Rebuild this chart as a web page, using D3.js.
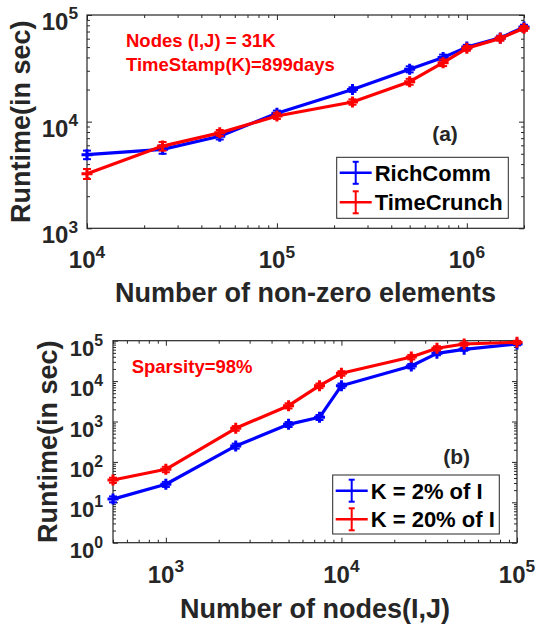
<!DOCTYPE html>
<html>
<head>
<meta charset="utf-8">
<script src="https://cdn.jsdelivr.net/npm/d3@7"></script>
<style>
  body { margin: 0; background: #fff; }
  text { font-family: "Liberation Sans", Arial, sans-serif; font-weight: bold; }
</style>
</head>
<body>
<svg id="chart" width="536" height="629"></svg>
<script>
// panel (a): runtime vs number of non-zero elements
const nnzX = [1e4, 2.5e4, 5e4, 1e5, 2.5e5, 5e5, 7.5e5, 1e6, 1.5e6, 2e6];
const richComm = [4900, 5500, 7300, 12000, 20000, 31000, 40000, 50000, 61000, 77000];
const richCommErr = [450, 500, 500, 700, 1000, 2000, 2500, 2500, 3000, 4000];
const timeCrunch = [3250, 5900, 7850, 11300, 15300, 23700, 35700, 48700, 60400, 75000];
const timeCrunchErr = [350, 550, 500, 700, 900, 1500, 2500, 2500, 3000, 4000];

// panel (b): runtime vs number of nodes
const nodesX = [500, 1000, 2500, 5000, 7500, 10000, 25000, 35000, 50000, 100000];
const k2 = [12, 28, 248, 850, 1270, 7700, 23600, 48700, 61200, 82800];
const k2Err = [2, 4, 35, 120, 180, 1000, 3000, 5000, 5000, 6000];
const k20 = [35.6, 65.6, 680, 2460, 7700, 15600, 39500, 64900, 82800, 91300];
const k20Err = [5, 10, 90, 350, 1000, 2000, 5000, 8000, 8000, 8000];

const axisColor = "#262626";
const svg = d3.select("#chart");

function minorTicks(domain) {
  var out = [];
  var lo = Math.floor(Math.log10(domain[0])), hi = Math.ceil(Math.log10(domain[1]));
  for (var e = lo; e < hi; e++) {
    for (var m = 2; m <= 9; m++) {
      var v = m * Math.pow(10, e);
      if (v >= domain[0] && v <= domain[1]) out.push(v);
    }
  }
  return out;
}

function drawPanel(p) {
  var x = d3.scaleLog().domain(p.xDomain).range([p.left, p.right]);
  var y = d3.scaleLog().domain(p.yDomain).range([p.bottom, p.top]);
  var g = svg.append("g");

  // ticks (inward, on all four sides)
  function ticks(axisFn, scale, vals, size, tr) {
    var a = g.append("g").attr("transform", tr)
      .call(axisFn(scale).tickValues(vals).tickSize(-size).tickSizeOuter(0).tickFormat(""));
    a.select(".domain").remove();
    a.selectAll("line").attr("stroke", axisColor).attr("stroke-width", 1);
  }
  var xMaj = p.xMajor, yMaj = p.yMajor;
  ticks(d3.axisBottom, x, xMaj, 5, "translate(0," + p.bottom + ")");
  ticks(d3.axisBottom, x, minorTicks(p.xDomain), 3, "translate(0," + p.bottom + ")");
  ticks(d3.axisTop, x, xMaj, 5, "translate(0," + p.top + ")");
  ticks(d3.axisTop, x, minorTicks(p.xDomain), 3, "translate(0," + p.top + ")");
  ticks(d3.axisLeft, y, yMaj, 5, "translate(" + p.left + ",0)");
  ticks(d3.axisLeft, y, minorTicks(p.yDomain), 3, "translate(" + p.left + ",0)");
  ticks(d3.axisRight, y, yMaj, 5, "translate(" + p.right + ",0)");
  ticks(d3.axisRight, y, minorTicks(p.yDomain), 3, "translate(" + p.right + ",0)");

  g.append("rect")
    .attr("x", p.left).attr("y", p.top)
    .attr("width", p.right - p.left).attr("height", p.bottom - p.top)
    .attr("fill", "none").attr("stroke", axisColor).attr("stroke-width", 1.2);

  // tick labels 10^n
  xMaj.forEach(function(v) {
    var t = g.append("text")
      .attr("x", x(v)).attr("y", p.bottom + p.xLabelDy)
      .attr("text-anchor", "middle").attr("fill", axisColor)
      .attr("font-size", p.xTickFont);
    t.append("tspan").text("10");
    t.append("tspan").attr("dy", -p.xTickFont * 0.45).attr("font-size", p.xTickFont * 0.72)
      .text(Math.round(Math.log10(v)));
  });
  yMaj.forEach(function(v) {
    var t = g.append("text")
      .attr("x", p.left - p.yLabelGap).attr("y", y(v) + p.yLabelDy)
      .attr("text-anchor", "end").attr("fill", axisColor)
      .attr("font-size", p.yTickFont);
    t.append("tspan").text("10");
    t.append("tspan").attr("dy", -p.yTickFont * 0.45).attr("font-size", p.yTickFont * 0.72)
      .text(Math.round(Math.log10(v)));
  });

  // axis titles
  g.append("text")
    .attr("x", (p.left + p.right) / 2).attr("y", p.xTitleY)
    .attr("text-anchor", "middle").attr("fill", axisColor)
    .attr("font-size", 27).text(p.xTitle);
  g.append("text")
    .attr("transform", "translate(" + p.yTitleX + "," + ((p.top + p.bottom) / 2) + ") rotate(-90)")
    .attr("text-anchor", "middle").attr("fill", axisColor)
    .attr("font-size", 27).text("Runtime(in sec)");

  // series
  var line = d3.line().x(function(d) { return x(d.x); }).y(function(d) { return y(d.y); });
  p.series.forEach(function(s) {
    var pts = p.xs.map(function(xv, i) { return {x: xv, y: s.values[i], e: s.err[i]}; });
    g.append("path").datum(pts)
      .attr("d", line).attr("fill", "none")
      .attr("stroke", s.color).attr("stroke-width", 3.2).attr("stroke-linejoin", "round");
    var pg = g.append("g").selectAll("g").data(pts).enter().append("g")
      .attr("stroke", s.color);
    pg.append("line")
      .attr("x1", function(d) { return x(d.x); }).attr("x2", function(d) { return x(d.x); })
      .attr("y1", function(d) { return y(d.y - d.e); }).attr("y2", function(d) { return y(d.y + d.e); })
      .attr("stroke-width", 2.2);
    [-1, 1].forEach(function(sg) {
      pg.append("line")
        .attr("x1", function(d) { return x(d.x) - 4; }).attr("x2", function(d) { return x(d.x) + 4; })
        .attr("y1", function(d) { return y(d.y + sg * d.e); }).attr("y2", function(d) { return y(d.y + sg * d.e); })
        .attr("stroke-width", 2);
    });
    pg.append("path")
      .attr("d", function(d) {
        var cx = x(d.x), cy = y(d.y);
        return "M" + (cx - 5.5) + "," + cy + "H" + (cx + 5.5) + "M" + cx + "," + (cy - 5.5) + "V" + (cy + 5.5);
      })
      .attr("stroke-width", 3);
  });

  // legend
  var lg = g.append("g");
  lg.append("rect")
    .attr("x", p.legend.x).attr("y", p.legend.y)
    .attr("width", p.legend.w).attr("height", p.legend.h)
    .attr("fill", "#fff").attr("stroke", axisColor).attr("stroke-width", 1);
  p.series.forEach(function(s, i) {
    var ly = p.legend.y + p.legend.rowY[i];
    var lx0 = p.legend.x + 3, lx1 = p.legend.x + 35, lc = (lx0 + lx1) / 2;
    lg.append("line").attr("x1", lx0).attr("x2", lx1).attr("y1", ly).attr("y2", ly)
      .attr("stroke", s.color).attr("stroke-width", 2.5);
    lg.append("line").attr("x1", lc).attr("x2", lc).attr("y1", ly - 11).attr("y2", ly + 11)
      .attr("stroke", s.color).attr("stroke-width", 2);
    [-11, 11].forEach(function(o) {
      lg.append("line").attr("x1", lc - 3).attr("x2", lc + 3).attr("y1", ly + o).attr("y2", ly + o)
        .attr("stroke", s.color).attr("stroke-width", 2);
    });
    lg.append("text").attr("x", lx1 + 3).attr("y", ly + 8)
      .attr("font-size", 22).attr("fill", "#000").text(s.name);
  });

  // annotations
  p.notes.forEach(function(n) {
    g.append("text").attr("x", n.x).attr("y", n.y)
      .attr("font-size", n.size).attr("fill", n.color)
      .attr("text-anchor", n.anchor || "start").text(n.text);
  });
}

drawPanel({
  left: 87, right: 524, top: 15, bottom: 228.3,
  xDomain: [1e4, 2e6], yDomain: [1e3, 1e5],
  xMajor: [1e4, 1e5, 1e6], yMajor: [1e3, 1e4, 1e5],
  xs: nnzX,
  xTickFont: 24, yTickFont: 24, xLabelDy: 40, yLabelGap: 9, yLabelDy: 15,
  xTitle: "Number of non-zero elements", xTitleY: 302, yTitleX: 30,
  series: [
    {name: "RichComm", values: richComm, err: richCommErr, color: "#0000ff"},
    {name: "TimeCrunch", values: timeCrunch, err: timeCrunchErr, color: "#ff0000"}
  ],
  legend: {x: 336.7, y: 157.3, w: 171.6, h: 61, rowY: [15.5, 45]},
  notes: [
    {x: 126, y: 47, size: 18.5, color: "#ff0000", text: "Nodes (I,J) = 31K"},
    {x: 126, y: 71, size: 18.5, color: "#ff0000", text: "TimeStamp(K)=899days"},
    {x: 445, y: 141, size: 21, color: axisColor, anchor: "middle", text: "(a)"}
  ]
});

drawPanel({
  left: 113, right: 517, top: 340.7, bottom: 542.7,
  xDomain: [500, 1e5], yDomain: [1, 1e5],
  xMajor: [1e3, 1e4, 1e5], yMajor: [1, 10, 100, 1e3, 1e4, 1e5],
  xs: nodesX,
  xTickFont: 24, yTickFont: 22, xLabelDy: 40, yLabelGap: 10, yLabelDy: 15,
  xTitle: "Number of nodes(I,J)", xTitleY: 618, yTitleX: 57,
  series: [
    {name: "K = 2% of I", values: k2, err: k2Err, color: "#0000ff"},
    {name: "K = 20% of I", values: k20, err: k20Err, color: "#ff0000"}
  ],
  legend: {x: 332.7, y: 475, w: 166.6, h: 59, rowY: [15.7, 44.3]},
  notes: [
    {x: 131.7, y: 373, size: 18.5, color: "#ff0000", text: "Sparsity=98%"},
    {x: 456.7, y: 464, size: 21, color: axisColor, anchor: "middle", text: "(b)"}
  ]
});
</script>
</body>
</html>
